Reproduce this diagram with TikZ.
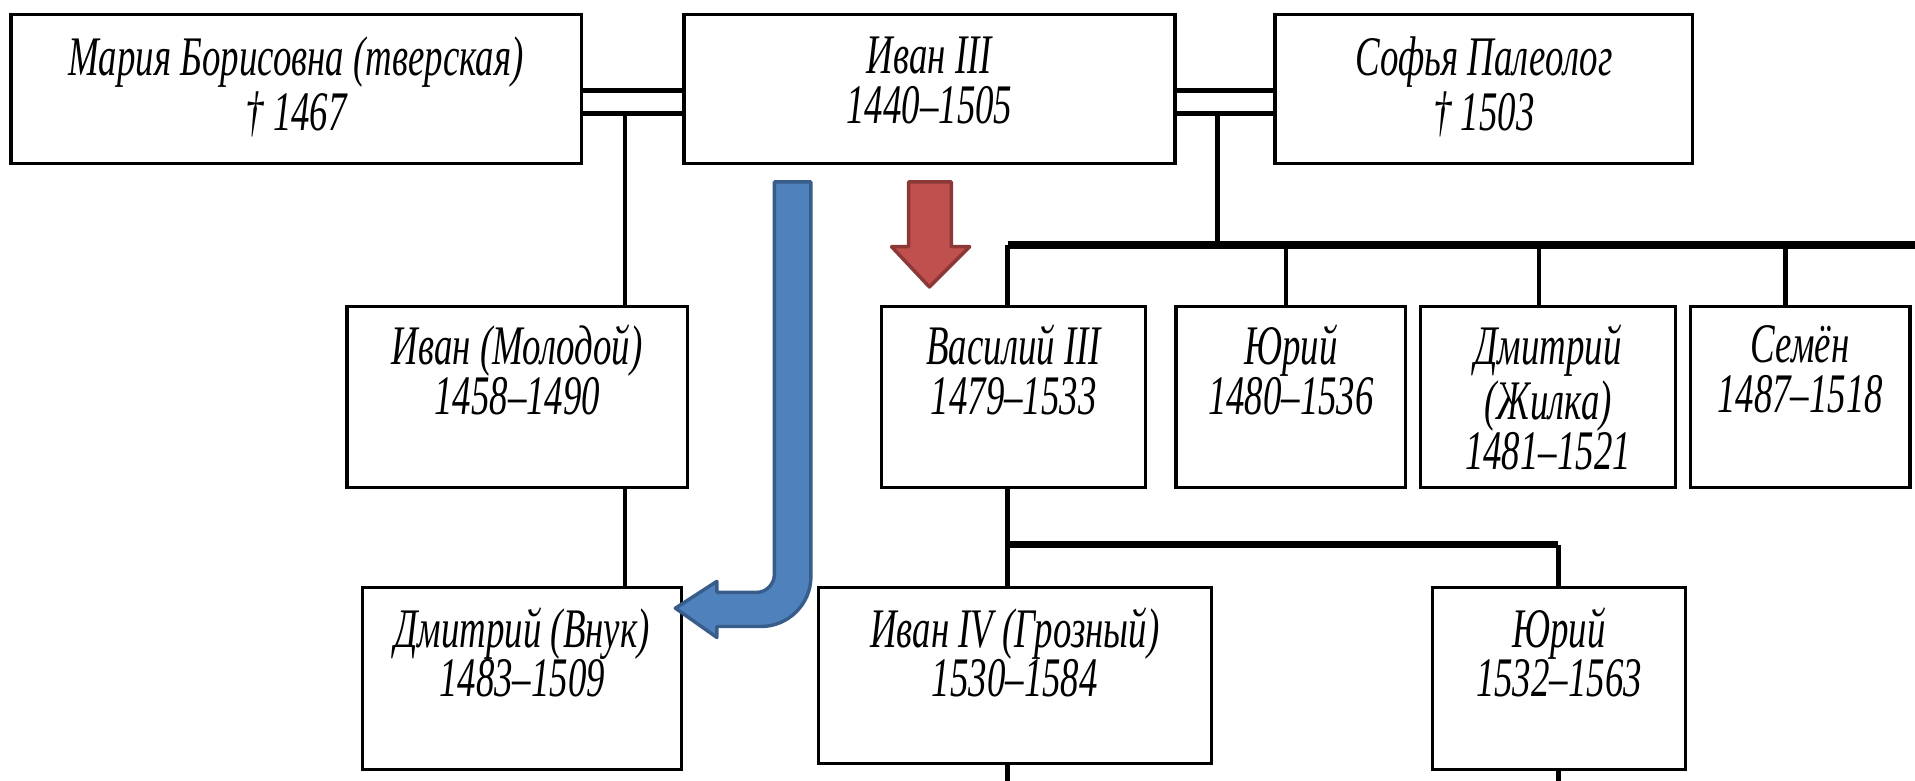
\documentclass[tikz,border=0pt]{standalone}
\usepackage{fontspec}
\usepackage{tikz}
\usetikzlibrary{positioning}
\newfontfamily\personFont[Ligatures=TeX, FakeStretch=0.66]{Liberation Serif}
\tikzstyle{diagram} = [x = 0.01cm, y = -0.01cm]
\definecolor{blueArrowFill}{RGB}{79,129,189}
\definecolor{blueArrowLine}{RGB}{56,93,138}
\definecolor{redArrowFill}{RGB}{192,80,77}
\definecolor{redArrowLine}{RGB}{140,56,54}
\tikzstyle{personStyle} = [draw=black, fill=white, line width=.8pt, inner sep=0pt]
\tikzstyle{personText} = [anchor=north, inner sep=0pt, align=center, font=\personFont\itshape\fontsize{13}{11.6}\selectfont]
\tikzstyle{linkLine} = [line width=1pt]
\tikzstyle{busLine} = [line width=1.7pt]
\tikzstyle{marriageLine} = [line width=1.2pt]
\tikzstyle{blueArrowStyle} = [fill=blueArrowFill, draw=blueArrowLine, line width=.8pt, line join=round]
\tikzstyle{redArrowStyle} = [fill=redArrowFill, draw=redArrowLine, line width=.8pt, line join=round]
\newcommand{\personBox}[7]{\node [personStyle, minimum width={(#4 - #2) * 0.01cm}, minimum height={(#5 - #3) * 0.01cm}, label={[personText, yshift=-#6]north:{#7}}] (#1) at ({(#2 + #4) / 2}, {(#3 + #5) / 2}) {};}
\newcommand{\marriageLines}[2]{\draw [marriageLine] ([yshift=-0.01cm]#1.east) -- ([yshift=-0.01cm]#2.west); \draw [marriageLine] ([yshift=-0.2cm]#1.east) -- ([yshift=-0.2cm]#2.west);}
\newcommand{\busDrop}[3]{\draw [linkLine] ([xshift=#2]#1.north) -- ([xshift=#2]#1.north |- #3);}
\begin{document}
\begin{tikzpicture}[diagram]
\useasboundingbox (0,0) rectangle (1568,638.7);
% first row
\personBox{maria}{9}{12}{476}{134}{0.19cm}{Мария Борисовна (тверская)\\† 1467}\personBox{ivanThree}{560}{12}{962}{134}{0.19cm}{Иван III\\1440--1505}\personBox{sofia}{1044}{12}{1386}{134}{0.19cm}{Софья Палеолог\\† 1503}
\marriageLines{maria}{ivanThree}\marriageLines{ivanThree}{sofia}
% second row
\personBox{molodoy}{284}{251}{563}{399}{0.16cm}{Иван (Молодой)\\1458--1490}\personBox{vasily}{722}{251}{938}{399}{0.16cm}{Василий III\\1479--1533}\personBox{yuri}{963}{251}{1151}{399}{0.16cm}{Юрий\\1480--1536}\personBox{dmitryZhilka}{1163}{251}{1372}{399}{0.16cm}{Дмитрий\\(Жилка)\\1481--1521}\personBox{semyon}{1384}{251}{1564}{399}{0.16cm}{Семён\\1487--1518}
% third row
\personBox{vnuk}{297}{481}{558}{630}{0.17cm}{Дмитрий (Внук)\\1483--1509}\personBox{ivanFour}{670}{481}{992}{625}{0.17cm}{Иван IV (Грозный)\\1530--1584}\personBox{yuriTwo}{1173}{481}{1380}{630}{0.17cm}{Юрий\\1532--1563}
\coordinate (leftDrop) at (512,93);
\coordinate (rightDrop) at (997,92);
\coordinate (busStart) at (825,200.5);
\coordinate (busEnd) at (1590,200.5);
\coordinate (busTwo) at (825,446);
\coordinate (busTwoEnd) at (1276,446);
\coordinate (bottomEdge) at (0,660);
\draw [linkLine] (leftDrop) -- (leftDrop |- molodoy.north);
\draw [linkLine] (leftDrop |- molodoy.south) -- (leftDrop |- vnuk.north);
\draw [linkLine] (rightDrop) -- (rightDrop |- busStart);
\draw [busLine] (busStart) -- (busEnd);
\draw [linkLine] (busStart) -- (busStart |- vasily.north);
\busDrop{yuri}{-0.04cm}{busStart}\busDrop{dmitryZhilka}{-0.075cm}{busStart}\busDrop{semyon}{-0.12cm}{busStart}
\draw [linkLine] (busTwo |- vasily.south) -- (busTwo |- ivanFour.north);
\draw [busLine] (busTwo) -- (busTwoEnd);
\draw [linkLine] (busTwoEnd) -- (busTwoEnd |- yuriTwo.north);
\draw [linkLine] (busTwo |- ivanFour.south) -- (busTwo |- bottomEdge);
\draw [linkLine] (busTwoEnd |- yuriTwo.south) -- (busTwoEnd |- bottomEdge);
% arrows
\filldraw [blueArrowStyle] (634,149) -- (664,149) -- (664,472) .. controls (664,494.6) and (645.6,513) .. (623,513) -- (587,513) -- (587,522) -- (553,498) -- (587,476) -- (587,485) -- (620,485) .. controls (627.7,485) and (634,477.7) .. (634,471) -- cycle;
\filldraw [redArrowStyle] (744,149) -- (779,149) -- (779,202) -- (794,202) -- (761,235) -- (730,202) -- (744,202) -- cycle;
\end{tikzpicture}
\end{document}
